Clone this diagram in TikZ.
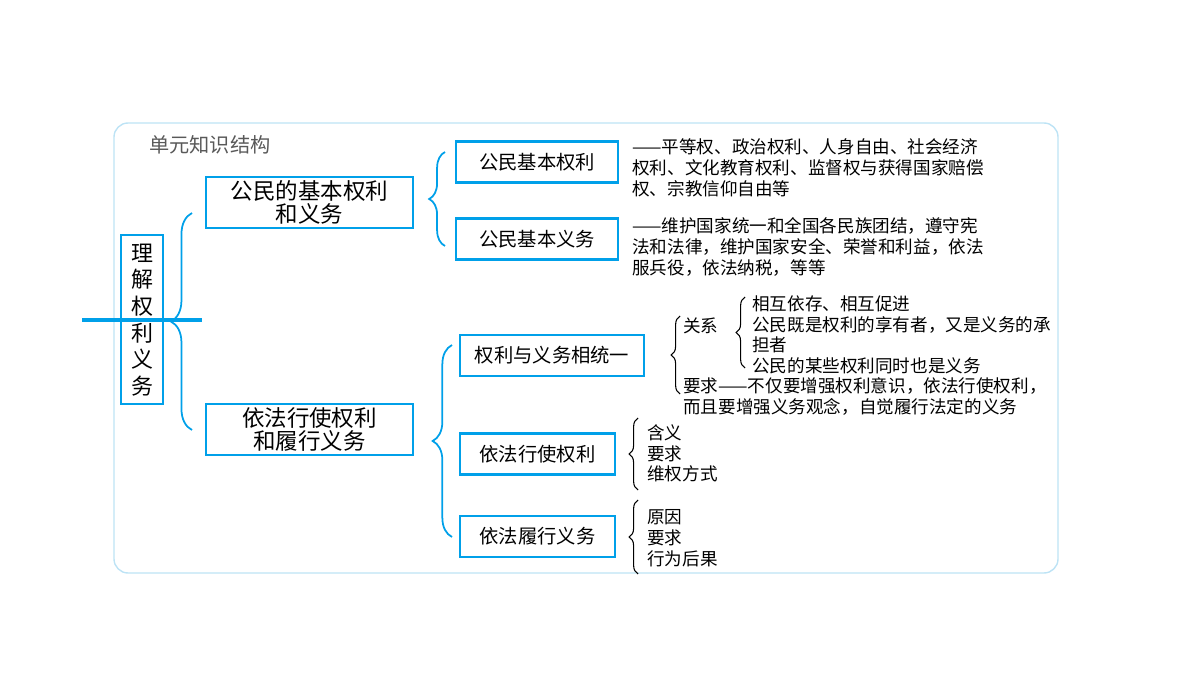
\documentclass[tikz,border=0pt]{standalone}
\usepackage{fontspec}
\setmainfont{Noto Sans CJK SC}
\usetikzlibrary{decorations.pathreplacing}
\definecolor{bl}{HTML}{00A0E9}
\definecolor{lb}{HTML}{BDE3F5}
\tikzset{
 box/.style={draw=bl,line width=1.6pt,inner sep=0pt,align=center},
 bbr/.style={draw=bl,line width=1pt,decorate,decoration={brace,amplitude=#1}},
 kbr/.style={draw=black,line width=0.6pt,decorate,decoration={brace,amplitude=#1}},
 txt/.style={anchor=north west,inner sep=0pt,align=left,font=\fontsize{10pt}{11.9pt}\selectfont}
}
\begin{document}
\begin{tikzpicture}[x=0.02cm,y=-0.02cm]
\useasboundingbox (0,0) rectangle (1200,675);
\draw[lb,line width=0.8pt,rounded corners=8pt] (114,123) rectangle (1058,573);
\node[anchor=west,text=black!65,font=\fontsize{11.5pt}{13pt}\selectfont] (title) at (143,145) {单元知识结构};
\node[box,minimum width=42\pgflinewidth] (root) at (142,320) {};
\draw[box] (121,235) rectangle (163,404);
\node[font=\fontsize{12.5pt}{15.2pt}\selectfont,align=center] (rt) at (142,320) {理\\解\\权\\利\\义\\务};
\node[box,minimum width=4.14cm,minimum height=1.02cm,font=\fontsize{12.8pt}{13.5pt}\selectfont] (a) at (309.5,202.5) {公民的基本权利\\和义务};
\node[box,minimum width=4.14cm,minimum height=1.02cm,font=\fontsize{12.8pt}{13.5pt}\selectfont] (b) at (309.5,429.5) {依法行使权利\\和履行义务};
\draw[bbr=12pt] (192,430) -- (192,213);
\draw[bbr=9pt] (445,246) -- (445,152);
\draw[bbr=11pt] (452,537) -- (452,345);
\tikzset{sbox/.style={box,minimum height=0.82cm,font=\fontsize{11pt}{13pt}\selectfont}}
\node[sbox,minimum width=3.24cm] (a1) at (537,162) {公民基本权利};
\node[sbox,minimum width=3.24cm] (a2) at (537,239) {公民基本义务};
\node[sbox,minimum width=3.68cm] (b1) at (552,355.5) {权利与义务相统一};
\node[sbox,minimum width=3.1cm] (b2) at (537.5,454) {依法行使权利};
\node[sbox,minimum width=3.1cm] (b3) at (537.5,536.5) {依法履行义务};
\node[txt] (t1) at (632,138) {——平等权、政治权利、人身自由、社会经济\\权利、文化教育权利、监督权与获得国家赔偿\\权、宗教信仰自由等};
\node[txt] (t2) at (632,217) {——维护国家统一和全国各民族团结，遵守宪\\法和法律，维护国家安全、荣誉和利益，依法\\服兵役，依法纳税，等等};
\draw[kbr=5pt] (680,394) -- (680,316);
\node[txt,anchor=west] (gx) at (683,326) {关系};
\draw[kbr=5pt] (745,368) -- (745,297);
\node[txt] (g1) at (752,295) {相互依存、相互促进\\公民既是权利的享有者，又是义务的承\\担者\\公民的某些权利同时也是义务};
\node[txt] (yq) at (683,377) {要求——不仅要增强权利意识，依法行使权利，\\而且要增强义务观念，自觉履行法定的义务};
\draw[kbr=5pt] (638,490) -- (638,418);
\node[txt] (c1) at (647,424) {含义\\要求\\维权方式};
\draw[kbr=5pt] (638,574) -- (638,500);
\node[txt] (d1) at (647,509) {原因\\要求\\行为后果};
\end{tikzpicture}
\end{document}
